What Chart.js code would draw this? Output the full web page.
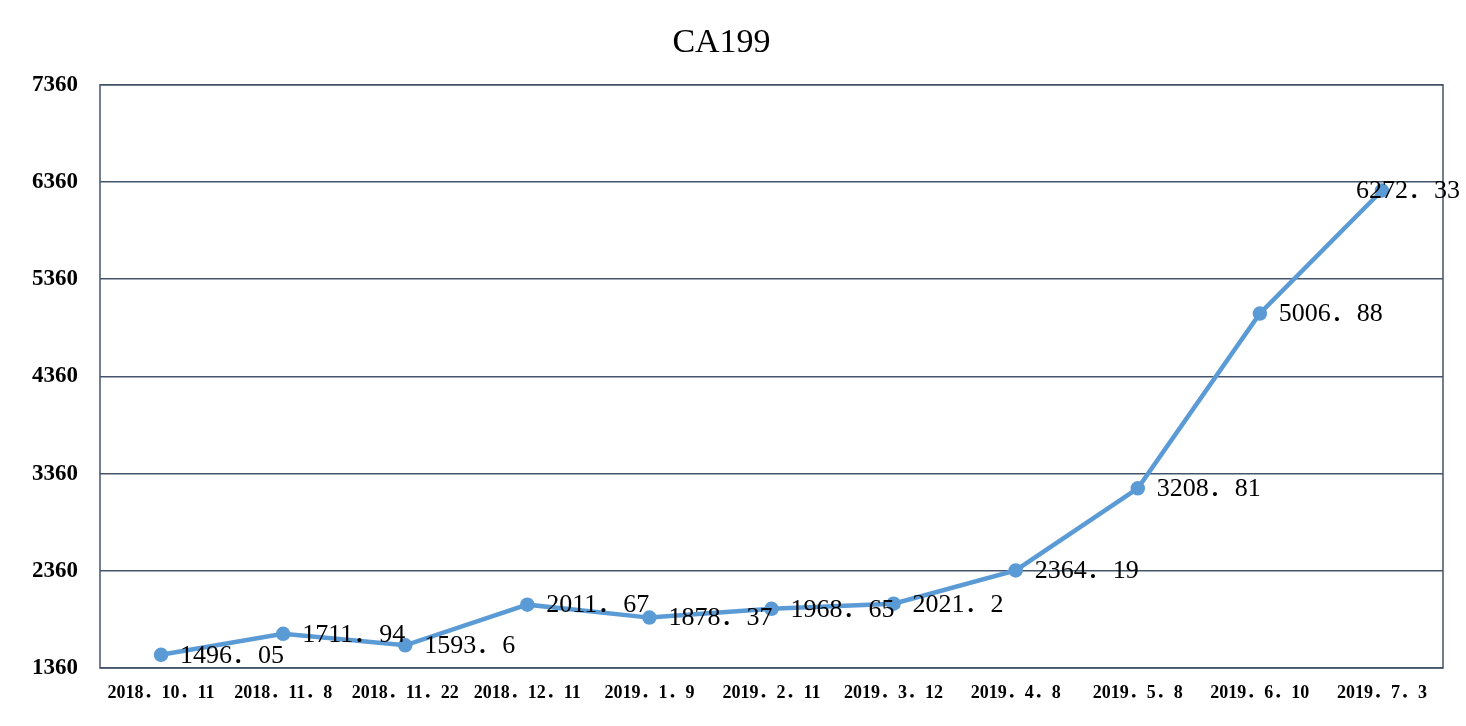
<!DOCTYPE html>
<html>
<head>
<meta charset="utf-8">
<script src="https://cdn.jsdelivr.net/npm/chart.js@4/dist/chart.umd.min.js"></script>
<style>
html,body{margin:0;padding:0;background:#fff;}
#wrap{width:1466px;height:726px;}
</style>
</head>
<body>
<div id="wrap"><canvas id="c" width="1466" height="726"></canvas></div>
<script>
const chartTitle = 'CA199';
const categories = ['2018．10．11','2018．11．8','2018．11．22','2018．12．11','2019．1．9','2019．2．11','2019．3．12','2019．4．8','2019．5．8','2019．6．10','2019．7．3'];
const values = [1496.05, 1711.94, 1593.6, 2011.67, 1878.37, 1968.65, 2021.2, 2364.19, 3208.81, 5006.88, 6272.33];
const yTicks = [1360, 2360, 3360, 4360, 5360, 6360, 7360];

const SERIF = "'Liberation Serif', 'Noto Sans CJK JP', serif";
const GRID = '#44546A';
const LINE = '#5B9BD5';

const borderPlugin = {
  id: 'plotBorder',
  afterDatasetsDraw(chart) {
    const {ctx, chartArea: a} = chart;
    ctx.save();
    ctx.strokeStyle = GRID;
    ctx.lineWidth = 1.5;
    ctx.strokeRect(a.left, a.top, a.right - a.left, a.bottom - a.top);
    ctx.restore();
  }
};

const labelPlugin = {
  id: 'valueLabels',
  afterDatasetsDraw(chart) {
    const {ctx} = chart;
    const meta = chart.getDatasetMeta(0);
    ctx.save();
    ctx.font = "26px " + SERIF;
    ctx.fillStyle = '#000';
    ctx.textAlign = 'left';
    ctx.textBaseline = 'middle';
    const maxRight = chart.width - 6;
    meta.data.forEach((pt, i) => {
      const txt = String(values[i]).replace('.', '．');
      const w = ctx.measureText(txt).width;
      let x = pt.x + 19;
      if (x + w > maxRight) x = maxRight - w;
      ctx.fillText(txt, x, pt.y + 1);
    });
    ctx.restore();
  }
};

new Chart(document.getElementById('c'), {
  type: 'line',
  data: {
    labels: categories,
    datasets: [{
      data: values,
      borderColor: LINE,
      backgroundColor: LINE,
      borderWidth: 4.5,
      pointRadius: 5,
      pointBackgroundColor: LINE,
      pointBorderColor: LINE,
      tension: 0,
      clip: false
    }]
  },
  options: {
    responsive: false,
    animation: false,
    devicePixelRatio: 1,
    layout: {padding: {left: 0, right: 23, top: 0, bottom: 0}},
    plugins: {
      legend: {display: false},
      tooltip: {enabled: false},
      title: {
        display: true,
        text: chartTitle,
        color: '#000',
        font: {family: SERIF, size: 34, weight: 'normal'},
        padding: {top: 23, bottom: 21}
      }
    },
    scales: {
      x: {
        offset: true,
        grid: {display: false, drawTicks: false},
        border: {display: false},
        ticks: {
          color: '#000',
          font: {family: SERIF, size: 18, weight: 'bold'},
          maxRotation: 0, minRotation: 0, autoSkip: false,
          padding: 15
        },
        afterFit(s) { s.height = 58; }
      },
      y: {
        min: 1360,
        max: 7360,
        afterBuildTicks(s) { s.ticks = yTicks.map(v => ({value: v})); },
        grid: {color: GRID, lineWidth: 1.5, drawTicks: false},
        border: {display: false},
        ticks: {
          color: '#000',
          font: {family: SERIF, size: 23, weight: 'bold'},
          padding: 22,
          callback: v => String(v)
        },
        afterFit(s) { s.width = 100; }
      }
    }
  },
  plugins: [borderPlugin, labelPlugin]
});
</script>
</body>
</html>
